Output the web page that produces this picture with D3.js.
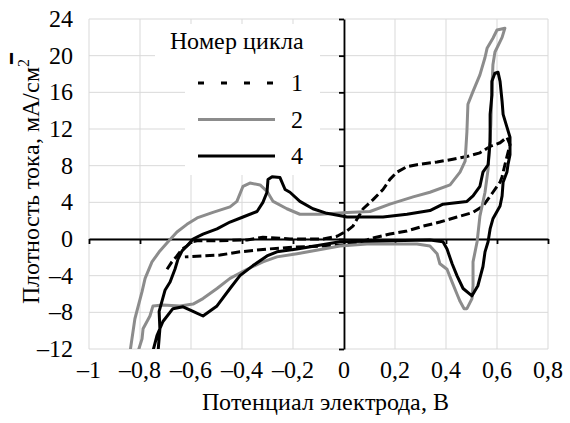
<!DOCTYPE html>
<html>
<head>
<meta charset="utf-8">
<script src="https://cdn.jsdelivr.net/npm/d3@7"></script>
<style>
  @font-face {
    font-family: 'ChartSerif';
    src: local('Liberation Serif'), local('LiberationSerif'), local('LiberationSerif-Regular'), local('Liberation Serif Regular');
  }
  body { margin: 0; background: #fff; }
</style>
</head>
<body>
<div id="chart"></div>
<script>
// tick values
const xTicks = [-1, -0.8, -0.6, -0.4, -0.2, 0, 0.2, 0.4, 0.6, 0.8]
const yTicks = [-12, -8, -4, 0, 4, 8, 12, 16, 20, 24]
const seriesNames = ['1', '2', '4']

// [potential V, current density mA/cm2]
const cycle1 = [
  [-0.694, -3.3], [-0.675, -2.5], [-0.655, -1.85], [-0.635, -1.1], [-0.616, -0.76], [-0.596, -0.3],
  [-0.576, -0.2], [-0.498, -0.2], [-0.38, -0.1], [-0.318, 0.2], [-0.212, 0], [-0.082, 0],
  [-0.027, 0.3], [0.012, 0.9], [0.035, 1.4], [0.075, 3.3], [0.114, 4.3], [0.153, 5.4],
  [0.18, 6.5], [0.208, 7.3], [0.247, 7.9], [0.286, 8.1], [0.365, 8.4], [0.427, 8.7],
  [0.482, 9.0], [0.533, 9.4], [0.573, 10.1], [0.612, 10.5], [0.639, 11.1], [0.651, 10.3],
  [0.631, 8.1], [0.62, 6.8], [0.612, 6.2], [0.584, 5.1], [0.545, 3.6], [0.506, 2.9],
  [0.443, 2.4], [0.376, 1.85], [0.31, 1.4], [0.247, 0.87], [0.18, 0.54], [0.114, 0.1],
  [0.09, -0.1], [0.012, -0.65], [-0.082, -0.76], [-0.184, -0.87], [-0.302, -1.1], [-0.408, -1.4],
  [-0.486, -1.75], [-0.553, -1.85], [-0.624, -1.95]
]
const cycle2 = [
  [-0.839, -12.3], [-0.82, -8.7], [-0.792, -5.75], [-0.78, -4.3], [-0.753, -2.5], [-0.722, -1.3],
  [-0.69, -0.3], [-0.655, 0.76], [-0.616, 1.6], [-0.576, 2.3], [-0.514, 2.9], [-0.447, 3.5],
  [-0.42, 4.1], [-0.396, 5.75], [-0.369, 6.1], [-0.329, 5.9], [-0.302, 5.2], [-0.278, 4.1],
  [-0.224, 3.3], [-0.173, 2.7], [-0.094, 2.7], [0.012, 2.9], [0.102, 3.0], [0.18, 3.8],
  [0.271, 4.6], [0.337, 5.1], [0.416, 5.9], [0.455, 7.3], [0.475, 8.5], [0.482, 11.7],
  [0.486, 14.7], [0.506, 16.1], [0.533, 17.9], [0.553, 19.8], [0.561, 20.8], [0.584, 21.9],
  [0.6, 22.8], [0.631, 23.0], [0.62, 22.0], [0.592, 20.4], [0.584, 19.0], [0.58, 16.3],
  [0.576, 12.5], [0.565, 7.6], [0.553, 5.1], [0.533, 2.5], [0.522, -0.3], [0.506, -2.5],
  [0.506, -5.1], [0.502, -6.5], [0.482, -7.6], [0.471, -7.6], [0.455, -6.8], [0.443, -6.0],
  [0.424, -4.7], [0.404, -3.3], [0.376, -2.7], [0.365, -1.6], [0.337, -0.76], [0.286, -0.54],
  [0.18, -0.54], [0.09, -0.54], [-0.016, -0.76], [-0.184, -1.6], [-0.263, -1.95], [-0.318, -2.5],
  [-0.38, -3.3], [-0.447, -4.3], [-0.498, -5.4], [-0.553, -6.5], [-0.592, -7.1], [-0.643, -7.3],
  [-0.71, -7.2], [-0.749, -7.3], [-0.761, -8.4], [-0.788, -9.8], [-0.792, -10.9], [-0.808, -12.3]
]
const cycle4 = [
  [-0.729, -12.2], [-0.722, -9.8], [-0.725, -7.9], [-0.714, -6.8], [-0.702, -5.6], [-0.682, -4.7],
  [-0.663, -3.3], [-0.651, -2.2], [-0.635, -1.3], [-0.616, -0.76], [-0.592, 0], [-0.553, 0.54],
  [-0.498, 1.1], [-0.447, 1.85], [-0.396, 2.4], [-0.341, 3.0], [-0.318, 4.0], [-0.302, 5.1],
  [-0.298, 6.5], [-0.282, 6.8], [-0.251, 6.7], [-0.231, 5.4], [-0.212, 5.1], [-0.173, 4.1],
  [-0.122, 3.3], [-0.067, 2.8], [0.012, 2.4], [0.153, 2.4], [0.247, 2.7], [0.337, 3.1],
  [0.388, 3.8], [0.482, 4.1], [0.506, 4.7], [0.533, 5.75], [0.545, 7.3], [0.565, 8.1],
  [0.573, 10.6], [0.573, 13.6], [0.58, 15.7], [0.58, 17.2], [0.592, 18.1], [0.604, 18.2],
  [0.612, 17.2], [0.62, 15.0], [0.624, 13.6], [0.639, 12.2], [0.651, 11.1], [0.651, 9.2],
  [0.643, 8.1], [0.639, 7.3], [0.624, 6.2], [0.62, 4.7], [0.612, 3.6], [0.584, 2.2],
  [0.573, 1.1], [0.565, -0.3], [0.553, -1.4], [0.545, -3.0], [0.525, -5.1], [0.502, -6.2],
  [0.467, -5.4], [0.443, -4.0], [0.424, -2.7], [0.404, -1.1], [0.388, -0.3], [0.337, -0.1],
  [-0.016, -0.3], [-0.184, -1.1], [-0.263, -1.4], [-0.302, -1.85], [-0.357, -2.9], [-0.408, -4.0],
  [-0.447, -5.4], [-0.498, -7.3], [-0.553, -8.4], [-0.592, -7.9], [-0.631, -7.4], [-0.671, -7.6],
  [-0.71, -9.0], [-0.733, -10.5], [-0.749, -12.2]
]

const margin = { top: 19, right: 22, bottom: 74, left: 89 }
const width = 459
const height = 330
const fontSize = '24px'
const serif = '"ChartSerif", "Liberation Serif", "Times New Roman", Tinos, serif'

const svg = d3
  .select('#chart')
  .append('svg')
  .attr('width', 570)
  .attr('height', 423)

const g = svg.append('g').attr('transform', `translate(${margin.left},${margin.top})`)

const x = d3.scaleLinear().domain([-1, 0.8]).range([0, width])
const y = d3.scaleLinear().domain([-12, 24]).range([height, 0])

// grid
g.append('g')
  .selectAll('line')
  .data(xTicks)
  .join('line')
  .attr('x1', (d) => x(d))
  .attr('x2', (d) => x(d))
  .attr('y1', 0)
  .attr('y2', height)
  .attr('stroke', '#d9d9d9')
  .attr('stroke-width', 1)
g.append('g')
  .selectAll('line')
  .data(yTicks)
  .join('line')
  .attr('x1', 0)
  .attr('x2', width)
  .attr('y1', (d) => y(d))
  .attr('y2', (d) => y(d))
  .attr('stroke', '#d9d9d9')
  .attr('stroke-width', 1)

// white boxes behind the legend
g.append('rect').attr('x', 155 - margin.left).attr('y', 24 - margin.top).attr('width', 165).attr('height', 42).attr('fill', '#fff')
g.append('rect').attr('x', 185 - margin.left).attr('y', 64 - margin.top).attr('width', 135).attr('height', 111).attr('fill', '#fff')

// axes crossing at zero
const xAxis = g
  .append('g')
  .attr('transform', `translate(0,${y(0)})`)
  .call(d3.axisBottom(x).tickValues(xTicks).tickSize(5).tickSizeOuter(0).tickFormat(''))
const yAxis = g
  .append('g')
  .attr('transform', `translate(${x(0)},0)`)
  .call(d3.axisLeft(y).tickValues(yTicks).tickSize(5).tickSizeOuter(0).tickFormat(''))
g.selectAll('.domain, .tick line').attr('stroke', '#000').attr('stroke-width', 1.8)

// tick labels
const fmt = (d) => (d < 0 ? '\u2013' : '') + String(Math.abs(d)).replace('.', ',')
g.append('g')
  .selectAll('text')
  .data(xTicks)
  .join('text')
  .attr('x', (d) => x(d))
  .attr('y', 378 - margin.top)
  .attr('text-anchor', 'middle')
  .style('font-family', serif)
  .style('font-size', fontSize)
  .text(fmt)
g.append('g')
  .selectAll('text')
  .data(yTicks)
  .join('text')
  .attr('x', 73 - margin.left)
  .attr('y', (d) => y(d) + 8)
  .attr('text-anchor', 'end')
  .style('font-family', serif)
  .style('font-size', fontSize)
  .text(fmt)

// axis titles
svg.append('text')
  .attr('x', 325)
  .attr('y', 410)
  .attr('text-anchor', 'middle')
  .style('font-family', serif)
  .style('font-size', fontSize)
  .text('Потенциал электрода, В')

const yTitle = svg.append('text')
  .attr('transform', 'translate(39,181) rotate(-90)')
  .attr('text-anchor', 'middle')
  .style('font-family', serif)
  .style('font-size', fontSize)
yTitle.append('tspan').text('Плотность тока, мА/см')
yTitle.append('tspan').attr('dy', -10).style('font-size', '16px').text('2')
svg.append('text')
  .attr('transform', 'translate(16,58) rotate(-90)')
  .attr('text-anchor', 'middle')
  .style('font-family', serif)
  .style('font-size', '18px')
  .style('font-weight', 'bold')
  .attr('stroke', '#000')
  .attr('stroke-width', 1.2)
  .text('\u2013')

// curves
svg.append('clipPath').attr('id', 'plotClip')
  .append('rect').attr('width', width).attr('height', height)

const line = d3.line().x((d) => x(d[0])).y((d) => y(d[1]))
const styles = [
  { data: cycle1, color: '#000', dash: '9,4' },
  { data: cycle2, color: '#8c8c8c', dash: null },
  { data: cycle4, color: '#000', dash: null },
]
const curves = g.append('g').attr('clip-path', 'url(#plotClip)')
styles.forEach((s) => {
  curves.append('path')
    .datum(s.data)
    .attr('d', line)
    .attr('fill', 'none')
    .attr('stroke', s.color)
    .attr('stroke-width', 3)
    .attr('stroke-linejoin', 'round')
    .attr('stroke-dasharray', s.dash)
})

// legend
svg.append('text')
  .attr('x', 170)
  .attr('y', 49)
  .style('font-family', serif)
  .style('font-size', fontSize)
  .text('Номер цикла')
const legendDash = ['6,17', null, null]
seriesNames.forEach((name, i) => {
  const ly = 83 + i * 36.5
  svg.append('line')
    .attr('x1', 198).attr('x2', 275)
    .attr('y1', ly).attr('y2', ly)
    .attr('stroke', styles[i].color)
    .attr('stroke-width', 3)
    .attr('stroke-dasharray', legendDash[i])
  svg.append('text')
    .attr('x', 291)
    .attr('y', ly + 8)
    .style('font-family', serif)
    .style('font-size', fontSize)
    .text(name)
})
</script>
</body>
</html>
